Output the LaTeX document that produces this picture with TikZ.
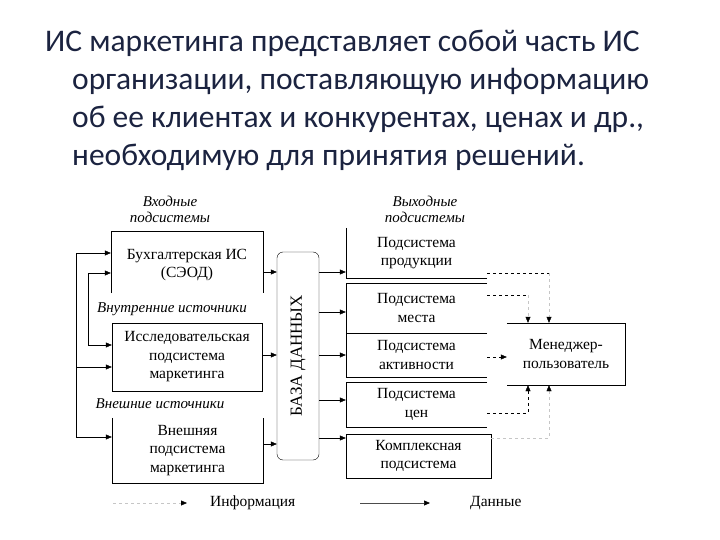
\documentclass[tikz,border=0pt]{standalone}
\usepackage{fontspec}
\setmainfont{Liberation Serif}
\newfontfamily\titlefont{Carlito}
\usetikzlibrary{arrows.meta}

\definecolor{titleblue}{HTML}{1B2340}

\tikzset{
  box/.style={inner sep=0pt, align=center, font=\fontsize{15.5}{18.5}\selectfont},
  caption/.style={inner sep=0pt, align=center, font=\fontsize{15}{16}\selectfont\itshape},
  tip/.style={-{Triangle[length=6pt,width=5pt,color=black]}},
  data/.style={thin, tip},
  info/.style={thin, dashed, tip},
  faint/.style={thin, dashed, gray!45},
  titleline/.style={anchor=base west, inner sep=0pt, text=titleblue,
    font=\titlefont\fontsize{31.5}{38}\selectfont},
}

\begin{document}
\begin{tikzpicture}[x=1pt, y=-1pt]
    \useasboundingbox (0,0) rectangle (720,540);

    % title
    \node[titleline] (t1) at (45,52) {ИС маркетинга представляет собой часть ИС};
    \node[titleline] (t2) at (72,90) {организации, поставляющую информацию};
    \node[titleline] (t3) at (72,128) {об ее клиентах и конкурентах, ценах и др.,};
    \node[titleline] (t4) at (72,166) {необходимую для принятия решений.};

    % input subsystems
    \node[caption] (incap) at (170,209) {Входные\\подсистемы};
    \node[box, minimum width=152, minimum height=62] (buh) at (187,262) {};
    \node[box] (buhtext) at (187,265) {Бухгалтерская ИС\\(СЭОД)};
    \node[caption] (inner) at (172,309) {Внутренние источники};
    \node[box, minimum width=150, minimum height=68] (issl) at (187,357) {Исследовательская\\подсистема\\маркетинга};
    \node[caption] (outer) at (160,404) {Внешние источники};
    \node[box, minimum width=151, minimum height=65] (vnesh) at (187.5,450.5) {Внешняя\\подсистема\\маркетинга};

    \draw (buh.south west) -- (buh.north west) -- (buh.north east) -- (buh.south east);
    \draw (issl.south west) rectangle (issl.north east);
    \draw (vnesh.north west) -- (vnesh.south west) -- (vnesh.south east) -- (vnesh.north east);

    % feedback on the left
    \coordinate (fbA) at (76,253);
    \coordinate (fbB) at (76,367);
    \coordinate (fbC) at (76,437);
    \coordinate (fbD) at (88,273);
    \coordinate (fbE) at (88,345);
    \draw[data] (fbC) -- (fbA) -- (fbA -| buh.west);
    \draw[data] (fbB) -- (fbB -| issl.west);
    \draw[data] (fbC) -- (fbC -| vnesh.west);
    \draw[data] (fbE) -- (fbD) -- (fbD -| buh.west);
    \draw[data] (fbE) -- (fbE -| issl.west);

    % data base
    \node[draw, rounded corners=6pt, minimum width=42, minimum height=208, inner sep=0pt] (db) at (298,356) {};
    \node[rotate=90, font=\fontsize{17}{19}\selectfont] (dbtext) at (db.center) {БАЗА ДАННЫХ};

    \draw[data] (buh.east |- 0,272) -- (db.west |- 0,272);
    \draw[data] (issl.east |- 0,355) -- (db.west |- 0,355);
    \draw[data] (vnesh.east |- 0,444) -- (db.west |- 0,444);

    % output subsystems
    \node[caption] (outcap) at (425,209) {Выходные\\подсистемы};
    \node[box, minimum width=141, minimum height=50] (prod) at (416.5,253) {Подсистема\\продукции};
    \node[box, minimum width=141, minimum height=50] (mesto) at (416.5,308) {Подсистема\\места};
    \node[box, minimum width=141, minimum height=44] (activ) at (416.5,355) {Подсистема\\активности};
    \node[box, minimum width=141, minimum height=45] (tsen) at (416.5,404.5) {Подсистема\\цен};
    \node[box, minimum width=145, minimum height=44] (kompl) at (418.5,456) {Комплексная\\подсистема};

    \draw (prod.north west) -- (prod.south west) -- (prod.south east);
    \foreach \b in {mesto,activ,tsen}
      \draw (\b.north east) -- (\b.north west) -- (\b.south west) -- (\b.south east);
    \draw (kompl.south west) rectangle (kompl.north east);

    \draw[data] (db.east |- 0,272) -- (prod.west |- 0,272);
    \draw[data] (db.east |- 0,312) -- (mesto.west |- 0,312);
    \draw[data] (db.east |- 0,355) -- (activ.west |- 0,355);
    \draw[data] (db.east |- 0,400) -- (tsen.west |- 0,400);
    \draw[data] (db.east |- 0,438) -- (kompl.west |- 0,438);

    % manager
    \node[box, minimum width=118, minimum height=62] (mgr) at (566,354) {Менеджер-\\пользователь};
    \draw (mgr.north west) -- (mgr.north east) -- (mgr.south east) -- (mgr.south west);

    \coordinate (iA) at (549,273);
    \coordinate (iB) at (528,295);
    \coordinate (iD) at (528,413);
    \coordinate (iE) at (549,438);
    \draw[dashed] (prod.east |- iA) -- (iA);
    \draw[faint, tip] (iA) -- (iA |- mgr.north);
    \draw[dashed] (mesto.east |- iB) -- (iB);
    \draw[faint, tip] (iB) -- (iB |- mgr.north);
    \draw[info] (activ.east |- 0,357) -- (mgr.west |- 0,357);
    \draw[info] (tsen.east |- iD) -| (mgr.south -| iD);
    \draw[faint, tip] (kompl.east |- iE) -| (mgr.south -| iE);

    % legend
    \node[box, anchor=west] (leginfo) at (210,503) {Информация};
    \node[box, anchor=west] (legdata) at (470,503) {Данные};
    \coordinate (lgA) at (113,503);
    \coordinate (lgB) at (360,503);
    \draw[faint, tip] (lgA) -- ([xshift=-23pt]leginfo.west);
    \draw[line width=0.7pt, gray!60!black, tip] (lgB) -- ([xshift=-40pt]legdata.west);
\end{tikzpicture}
\end{document}
